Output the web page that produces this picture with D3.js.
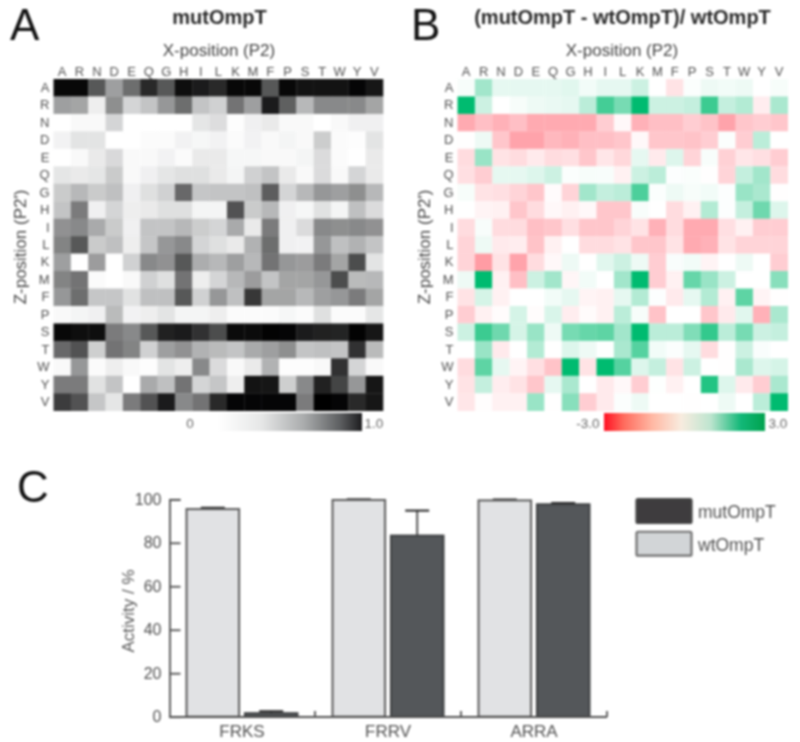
<!DOCTYPE html>
<html>
<head>
<meta charset="utf-8">
<script src="https://d3js.org/d3.v7.min.js"></script>
<style>
    html, body { margin: 0; padding: 0; background: #fff; }
    svg { display: block; font-family: "Liberation Sans", Arial, sans-serif; }
    .panel-letter { font-size: 44px; fill: #111; }
    .title { font-size: 20px; font-weight: bold; fill: #2a2a2a; text-anchor: middle; }
    .axis-title { font-size: 17px; fill: #444; text-anchor: middle; }
    .aa text { font-size: 13px; fill: #505050; }
    .bar-axis text { font-size: 16px; fill: #505050; }
    .bar-axis line, .bar-axis path { stroke: #505050; stroke-width: 1.8; }
    .bar-axis .x-label { font-size: 17px; }
    .bar-title { font-size: 17px; fill: #555; text-anchor: middle; }
    .legend-label { font-size: 17.5px; fill: #505050; }
    .scale-label { font-size: 13.5px; fill: #666; text-anchor: middle; }
</style>
</head>
<body>
<div id="chart"></div>
<script>
// amino acids, same order on both axes of both heatmaps
const residues = ['A','R','N','D','E','Q','G','H','I','L','K','M','F','P','S','T','W','Y','V'];

// panel A, mutOmpT activity 0..1, one row per Z-position
const mutActivity = [
    [.97,.97,.68,.42,.60,.85,.68,.95,.90,.85,.97,.97,.68,.97,.93,.93,.93,.98,.92],
    [.42,.40,.08,.48,.20,.28,.45,.60,.28,.22,.58,.42,.90,.65,.33,.50,.50,.50,.40],
    [0,.03,.03,.20,0,0,0,0,.12,.16,.01,.07,.10,.03,.03,0,.03,.07,.07],
    [.06,.13,.13,0,0,.02,.02,.06,.04,.06,.02,.06,.03,.05,.03,.24,.02,.01,.13],
    [0,.03,.10,.18,.03,.03,.06,.02,.10,.10,.04,.04,.03,.03,.05,.17,.02,0,.10],
    [.12,.10,.12,.25,.03,.07,.12,.15,.15,.10,.05,.22,.28,.10,.03,.17,.03,.20,.10],
    [.25,.33,.25,.30,.07,.15,.22,.62,.27,.28,.28,.30,.66,.20,.33,.45,.42,.48,.33],
    [.28,.55,.07,.20,.08,.10,.15,.15,.05,.05,.70,.25,.33,.07,.04,.14,.05,.30,.17],
    [.47,.50,.38,.25,.07,.28,.28,.33,.24,.20,.38,.10,.55,.07,.17,.50,.48,.50,.47],
    [.52,.68,.25,.30,.08,.27,.45,.50,.20,.15,.10,.35,.60,.07,.06,.45,.30,.35,.28],
    [.42,0,.43,0,.22,.50,.47,.68,.37,.33,.42,.33,.58,.45,.43,.55,.40,.72,.13],
    [.52,.58,.02,0,.03,.22,.15,.58,.08,.20,.33,.43,.28,.40,.40,.45,.72,.32,.33],
    [.45,.60,.27,.27,.14,.30,.30,.68,.22,.45,.30,.80,.40,.40,.33,.42,.45,.55,.40],
    [.03,.05,.07,.32,.06,.08,.13,.05,.05,.08,.02,.02,.02,.04,.02,.15,.02,.02,.12],
    [.97,.95,.95,.55,.50,.68,.88,.90,.82,.72,.96,.96,.99,.98,.90,.88,.87,.99,.92],
    [.62,.70,.23,.58,.52,.22,.42,.47,.35,.32,.28,.38,.42,.48,.28,.30,.28,.82,.32],
    [.03,.45,.02,.08,.03,.01,.13,.08,.50,.17,.03,.10,.35,.01,.01,.03,.82,.20,.03],
    [.55,.55,.14,.28,0,.38,.30,.58,.20,.27,.08,.93,.92,.23,.50,.88,.75,.45,.92],
    [.78,.70,.27,.12,.55,.70,.90,.50,.58,.85,.98,.98,.98,.98,.55,1,.98,.85,.92]
];

// panel B, (mut - wt) / wt, -3..3
const relChange = [
    [.1,1.1,.3,.3,.3,.3,.35,.15,.3,.3,.6,0,-.4,.05,.2,.15,.2,0,.1],
    [3,.6,0,.1,.2,.25,.3,.8,2.2,1.6,3,.6,.6,.7,2.3,.7,.9,-.25,1],
    [-1.2,-.9,-1.1,-.9,-1.2,-1.2,-1.2,-1.2,-.7,-.1,-1.1,-.9,-.9,-.7,-.85,-1.3,-.8,-.7,-.8],
    [-.02,.2,-.8,-1.3,-1.3,-1,-1.1,-.9,-.9,-.8,-.1,-.8,-.8,-.85,-.7,.05,-.7,.8,0],
    [-.5,1.2,-.4,-.5,-.3,-.5,-.45,-.8,-.35,-.55,.3,-.3,.4,-.6,.08,-.65,-.35,-.45,-.7],
    [-.45,-.7,.3,.3,.4,.6,.05,.1,.08,-.2,.6,.8,.03,.06,-.02,-.6,.7,1.1,-.5],
    [.1,-.4,-.45,-.6,-.8,-.05,-.6,1.1,.7,.8,2.1,.05,.2,.1,.15,.03,1.2,1,-.02],
    [0,-.15,-.2,-.8,-.5,-.1,-.2,-.1,-.8,-.8,.08,0,-.5,-.2,.9,.03,.7,1.7,.4],
    [-.5,.08,-.5,-.5,-.9,-.8,-.45,-.8,-.8,-.6,-.4,-1.1,-.5,-1.2,-1.2,-.45,-.2,-.7,-.7],
    [-.6,.2,-.3,-.25,-.85,-.2,0,-.5,-.5,-.4,-.8,-.8,-.4,-1.2,-1.1,-.4,-.6,-.6,-.6],
    [-.6,-1.4,-.4,-1.3,-.5,-.1,.2,0,.35,.6,.2,-.7,.07,.15,-.15,0,.2,0,-.7],
    [.2,3,-.2,-.9,.6,1.1,-.12,.15,0,1.1,3,-.7,-.2,1.8,1.2,.6,0,0,1.4],
    [-.4,.5,-.2,0,0,.15,.3,-.15,-.2,.3,.9,.03,-.3,.3,.9,-.2,1.9,-.15,-.02],
    [-.7,-.2,-.04,.5,-.04,.45,-.25,-.06,-.2,.8,.1,-.85,0,0,-.8,-.3,.35,-1.1,1],
    [.6,2.3,1.7,.5,1.2,.2,1.6,1.8,1.9,1.1,3,.8,.8,1.5,2.4,.8,1.6,.6,.7],
    [0,1.2,-.3,0,.9,0,.4,.2,.02,1,2,.15,.05,.3,-.5,-.02,.6,.07,0],
    [-.5,1.9,.3,-.15,-.45,-.85,3,-.4,3,2,.4,.7,-.4,.6,0,-.02,1,.4,.5],
    [-.4,.7,-.25,-.4,-.8,.3,1,0,-.3,-.1,-.7,.02,-.2,0,2.6,.4,-.3,-.7,1],
    [-.35,-.03,-.2,-.2,1.2,-.01,1.4,-.7,-.3,.05,.2,0,0,-.01,0,.2,0,.8,3]
];

// panel C
const substrates = ['FRKS','FRRV','ARRA'];
const variants = ['wtOmpT','mutOmpT'];
const wtMeans = [95.5, 99.7, 99.5];
const wtErrors = [.6, .3, .4];
const mutMeans = [1.6, 83.3, 97.7];
const mutErrors = [.9, 11.5, .6];
const activityTicks = [0, 20, 40, 60, 80, 100];

const width = 800;
const height = 742;

const svgRoot = d3.select('#chart')
    .append('svg')
    .attr('width', width)
    .attr('height', height);

const defs = svgRoot.append('defs');

// the source figure is a soft raster, so everything gets a slight blur
defs.append('filter')
    .attr('id', 'soft')
    .attr('filterUnits', 'userSpaceOnUse')
    .attr('x', 0).attr('y', 0)
    .attr('width', width).attr('height', height)
    .attr('color-interpolation-filters', 'sRGB')
    .append('feGaussianBlur')
    .attr('stdDeviation', 1);

const svg = svgRoot.append('g').attr('filter', 'url(#soft)');

function addGradient(id, stops) {
    const grad = defs.append('linearGradient').attr('id', id);
    grad.selectAll('stop')
        .data(stops)
        .join('stop')
        .attr('offset', d => d[0])
        .attr('stop-color', d => d[1]);
}

addGradient('greyBar', [[0, '#ffffff'], [.3, '#e6e7e7'], [.6, '#a9abac'], [.85, '#5c5e60'], [1, '#1c1c1e']]);
addGradient('redGreenBar', [[0, '#ff0f22'], [.12, '#ff6a5c'], [.3, '#ffb8a4'], [.48, '#f8ecdf'], [.66, '#bfe5d0'], [.85, '#12b878'], [1, '#00a24e']]);

const greyColor = d3.scaleLinear()
    .domain([0, .3, 1])
    .range(['#ffffff', '#bfc0c1', '#000000']);

const diffColor = d3.scaleLinear()
    .domain([-3, 0, 3])
    .range(['#ff2a3c', '#ffffff', '#00bb70'])
    .clamp(true);

function drawHeatmap(opts) {
    const x = d3.scaleBand().domain(residues).range([opts.left, opts.right]);
    const y = d3.scaleBand().domain(residues).range([79, 410.7]);

    // flatten the matrix to one datum per cell
    const cells = opts.values.flatMap((row, r) =>
        row.map((v, c) => ({ row: residues[r], col: residues[c], value: v })));

    svg.append('g')
        .selectAll('rect')
        .data(cells)
        .join('rect')
        .attr('x', d => x(d.col))
        .attr('y', d => y(d.row))
        .attr('width', x.bandwidth() + .3)
        .attr('height', y.bandwidth() + .3)
        .attr('fill', d => opts.color(d.value));

    const topAxis = svg.append('g')
        .attr('class', 'aa')
        .attr('transform', 'translate(0,73)')
        .call(d3.axisTop(x).tickSize(0).tickPadding(-3));
    topAxis.select('.domain').remove();

    const leftAxis = svg.append('g')
        .attr('class', 'aa')
        .attr('transform', 'translate(' + (opts.left - 1) + ',0)')
        .call(d3.axisLeft(y).tickSize(0).tickPadding(3));
    leftAxis.select('.domain').remove();

    svg.append('text')
        .attr('class', 'axis-title')
        .attr('x', opts.xTitle)
        .attr('y', 56)
        .text('X-position (P2)');

    svg.append('text')
        .attr('class', 'axis-title')
        .attr('transform', 'translate(' + (opts.left - 27.5) + ',247) rotate(-90)')
        .text("Z-position (P2')");

    svg.append('text')
        .attr('class', 'title')
        .attr('x', opts.titleX)
        .attr('y', 24)
        .text(opts.title);

    svg.append('text')
        .attr('class', 'panel-letter')
        .attr('x', opts.letterX)
        .attr('y', 40)
        .text(opts.letter);

    svg.append('rect')
        .attr('x', opts.barLeft)
        .attr('y', 413)
        .attr('width', opts.barRight - opts.barLeft)
        .attr('height', 18)
        .attr('fill', 'url(#' + opts.gradient + ')');

    svg.selectAll(null)
        .data(opts.barLabels)
        .join('text')
        .attr('class', 'scale-label')
        .attr('x', d => d.x)
        .attr('y', 428)
        .text(d => d.text);
}

drawHeatmap({
    values: mutActivity, color: greyColor,
    left: 53.5, right: 383,
    title: 'mutOmpT', titleX: 219.5, xTitle: 219,
    letter: 'A', letterX: 10,
    gradient: 'greyBar', barLeft: 218, barRight: 362,
    barLabels: [{ x: 190, text: '0' }, { x: 374, text: '1.0' }]
});

drawHeatmap({
    values: relChange, color: diffColor,
    left: 457.5, right: 787.7,
    title: '(mutOmpT - wtOmpT)/ wtOmpT', titleX: 622.5, xTitle: 622,
    letter: 'B', letterX: 411,
    gradient: 'redGreenBar', barLeft: 604, barRight: 765,
    barLabels: [{ x: 588, text: '-3.0' }, { x: 778, text: '3.0' }]
});

// panel C bars
const x0 = d3.scaleBand()
    .domain(substrates)
    .range([169, 607])
    .paddingInner(.24)
    .paddingOuter(.12);

const x1 = d3.scaleBand()
    .domain(variants)
    .range([0, x0.bandwidth()])
    .paddingInner(.1);

const yBar = d3.scaleLinear()
    .domain([0, 100])
    .range([716.7, 499.3]);

const barRows = substrates.flatMap((s, i) => [
    { substrate: s, variant: 'wtOmpT', mean: wtMeans[i], err: wtErrors[i] },
    { substrate: s, variant: 'mutOmpT', mean: mutMeans[i], err: mutErrors[i] }
]);

const barFill = d3.scaleOrdinal().domain(variants).range(['#e1e2e4', '#54575a']);
const barStroke = d3.scaleOrdinal().domain(variants).range(['#5c5c5c', '#3e4042']);
const legendFill = d3.scaleOrdinal().domain(variants).range(['#d2d5d7', '#3e3c3e']);
const legendStroke = d3.scaleOrdinal().domain(variants).range(['#707070', '#444']);

const barX = d => x0(d.substrate) + x1(d.variant);
const barMid = d => barX(d) + x1.bandwidth() / 2;

const barGroup = svg.append('g');

// error bars go first so the stem starts behind the bar top
barGroup.selectAll('line.stem')
    .data(barRows)
    .join('line')
    .attr('class', 'stem')
    .attr('x1', barMid)
    .attr('x2', barMid)
    .attr('y1', d => yBar(d.mean))
    .attr('y2', d => yBar(d.mean + d.err))
    .attr('stroke', '#555')
    .attr('stroke-width', 2);

barGroup.selectAll('line.cap')
    .data(barRows)
    .join('line')
    .attr('class', 'cap')
    .attr('x1', d => barMid(d) - 12)
    .attr('x2', d => barMid(d) + 12)
    .attr('y1', d => yBar(d.mean + d.err))
    .attr('y2', d => yBar(d.mean + d.err))
    .attr('stroke', '#222')
    .attr('stroke-width', 2);

barGroup.selectAll('rect')
    .data(barRows)
    .join('rect')
    .attr('x', barX)
    .attr('y', d => yBar(d.mean))
    .attr('width', x1.bandwidth())
    .attr('height', d => yBar(0) - yBar(d.mean))
    .attr('fill', d => barFill(d.variant))
    .attr('stroke', d => barStroke(d.variant))
    .attr('stroke-width', 2);

// y axis, ticks point inward
svg.append('g')
    .attr('class', 'bar-axis')
    .attr('transform', 'translate(169.5,0)')
    .call(d3.axisRight(yBar).tickValues(activityTicks).tickSize(11))
    .call(g => g.selectAll('text').attr('x', -8).style('text-anchor', 'end'));

// x axis, only the boundaries between groups get a tick
const xBottom = svg.append('g')
    .attr('class', 'bar-axis')
    .attr('transform', 'translate(0,717)')
    .call(d3.axisBottom(x0).tickSize(0).tickPadding(8));

xBottom.selectAll('text').attr('class', 'x-label');
xBottom.select('.domain').remove();
xBottom.append('line')
    .attr('x1', 169.5)
    .attr('x2', 607)
    .attr('y1', 0)
    .attr('y2', 0);

const groupEdges = substrates.map(s => x0(s) + x0.bandwidth() + x0.step() * .12);
xBottom.selectAll('line.edge')
    .data(groupEdges)
    .join('line')
    .attr('class', 'edge')
    .attr('x1', d => d)
    .attr('x2', d => d)
    .attr('y1', 0)
    .attr('y2', -6);

svg.append('text')
    .attr('class', 'bar-title')
    .attr('transform', 'translate(134,611) rotate(-90)')
    .text('Activity / %');

svg.append('text')
    .attr('class', 'panel-letter')
    .attr('x', 17)
    .attr('y', 502)
    .text('C');

// legend, mutOmpT on top
const legendY = d3.scaleBand()
    .domain(['mutOmpT', 'wtOmpT'])
    .range([499, 555.7])
    .paddingInner(.27);

const legend = svg.append('g')
    .selectAll('g')
    .data(legendY.domain())
    .join('g');

legend.append('rect')
    .attr('x', 636.5)
    .attr('y', d => legendY(d))
    .attr('width', 55)
    .attr('height', legendY.bandwidth())
    .attr('rx', 1.5)
    .attr('fill', d => legendFill(d))
    .attr('stroke', d => legendStroke(d))
    .attr('stroke-width', 2.2);

legend.append('text')
    .attr('class', 'legend-label')
    .attr('x', 698)
    .attr('y', d => legendY(d) + legendY.bandwidth() / 2 + 7.5)
    .text(d => d);
</script>
</body>
</html>
